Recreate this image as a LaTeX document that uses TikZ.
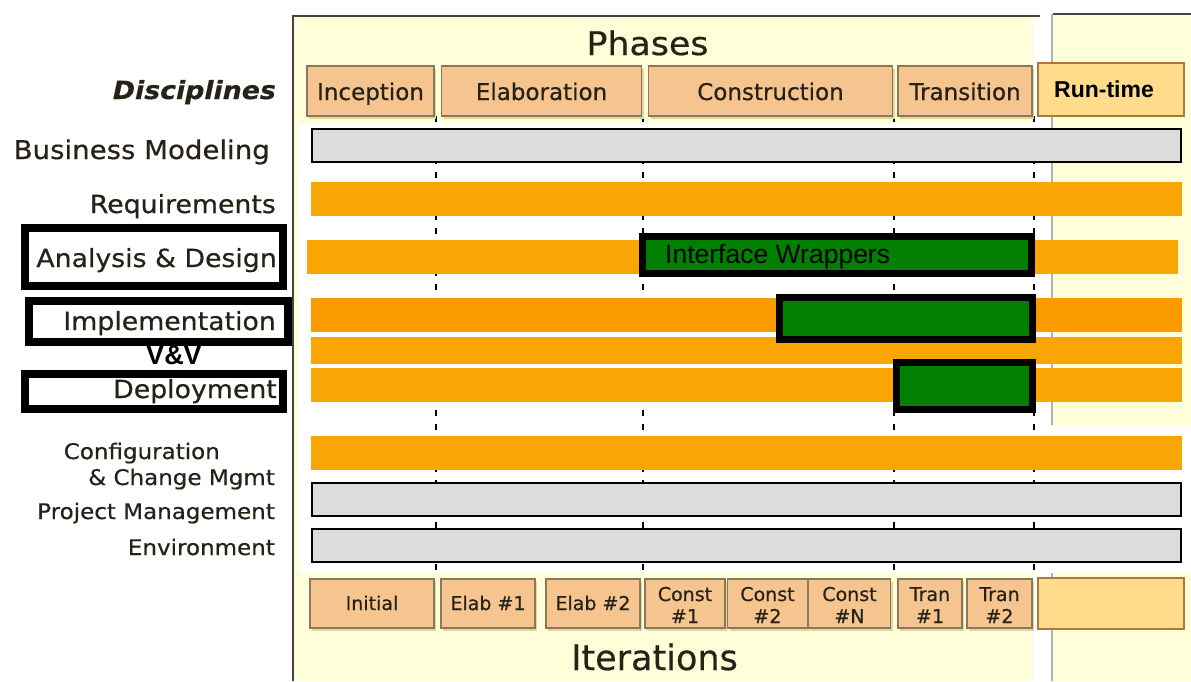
\documentclass[tikz,border=0pt]{standalone}
\usepackage{fontspec}
\setmainfont[FakeBold=0.5]{DejaVu Sans}
\newfontfamily\arialfont{Liberation Sans}
\newfontfamily\lblfont[FakeStretch=1.07,FakeBold=0.5]{DejaVu Sans}
\usetikzlibrary{shadows}
\definecolor{paley}{HTML}{FEFED8}
\definecolor{phasefill}{HTML}{F6C48E}
\definecolor{phasedraw}{HTML}{8A7858}
\definecolor{rtfill}{HTML}{FEDC8C}
\definecolor{rtdraw}{HTML}{B0773A}
\definecolor{orbar}{HTML}{F9A503}
\definecolor{orbartwo}{HTML}{FB9B00}
\definecolor{greybar}{HTML}{DCDCDC}
\definecolor{grn}{HTML}{007F00}
\definecolor{txt}{HTML}{262218}
\definecolor{shadowc}{HTML}{DDD6A6}
\definecolor{framec}{HTML}{444444}
\tikzset{
  phasebox/.style={draw=phasedraw, line width=1.2pt, fill=phasefill, inner sep=0pt,
    text=txt, font=\fontsize{23}{27}\selectfont, text height=20pt, text depth=2pt,
    drop shadow={shadow xshift=2pt, shadow yshift=-3pt, fill=shadowc, opacity=1}},
  iterbox/.style={draw=phasedraw, line width=1.2pt, fill=phasefill, inner sep=0pt,
    text=txt, font=\fontsize{19}{22}\selectfont, align=center, text height=15pt, text depth=2pt,
    drop shadow={shadow xshift=2pt, shadow yshift=-3pt, fill=shadowc, opacity=1}},
  twoline/.style={text height=41pt, text depth=2pt},
  rtbox/.style={draw=rtdraw, line width=2pt, fill=rtfill, inner sep=0pt},
  obar/.style={fill=orbar, draw=none, inner sep=0pt, minimum width=871, minimum height=34},
  gbar/.style={fill=greybar, draw=black, line width=2pt, inner sep=0pt, minimum width=869, minimum height=33},
  greenbox/.style={fill=grn, draw=black, line width=7pt, inner sep=0pt},
  lblframe/.style={draw=black, line width=8pt, fill=white, inner sep=0pt},
  lbl/.style={anchor=base east, inner sep=0pt, text=txt, font=\lblfont\fontsize{25}{30}\selectfont},
  lbls/.style={anchor=base east, inner sep=0pt, text=txt, font=\lblfont\fontsize{21.5}{26}\selectfont},
  gridline/.style={line width=2pt, dash pattern=on 6pt off 8pt, black},
}
\begin{document}
\begin{tikzpicture}[x=1pt,y=-1pt]
\useasboundingbox (0,0) rectangle (1191,681);
\fill[white] (0,0) rectangle (1191,681);
% panels
\fill[paley] (293,16) rectangle (1033,681);
\fill[paley] (1052,14) rectangle (1191,681);
\draw[gray!60, line width=1.5pt] (1052,14) -- (1052,681);
\draw[framec, line width=2pt] (293,681) -- (293,16) -- (1040,16);
\draw[framec, line width=2pt] (1053,14) -- (1191,14);
\fill[white] (299,124) rectangle (1035,573);
\fill[white] (1035,425) rectangle (1191,573);
% titles
\node[anchor=base, inner sep=0pt, text=txt, font=\lblfont\fontsize{32.5}{38}\selectfont] (phases) at (647.5,55) {Phases};
\node[anchor=base, inner sep=0pt, text=txt, font=\fontsize{35}{40}\selectfont] (iters) at (654.5,670) {Iterations};
% grid lines
\foreach \x in {436,643,894,1034} \draw[gridline] (\x,116) -- (\x,573);
% phase boxes
\node[phasebox, minimum width=127, minimum height=50] (inc) at (370.5,91) {Inception};
\node[phasebox, minimum width=200, minimum height=50] (ela) at (541.5,91) {Elaboration};
\node[phasebox, minimum width=244, minimum height=50] (con) at (770.5,91) {Construction};
\node[phasebox, minimum width=134, minimum height=50] (tra) at (965,91) {Transition};
\node[rtbox, minimum width=146, minimum height=53] (rt) at (1111,89.5) {};
\node[anchor=base, inner sep=0pt, font=\arialfont\bfseries\fontsize{23}{27}\selectfont] (rtT) at (1104,97) {Run-time};
% iteration boxes
\node[iterbox, minimum width=124, minimum height=49] (it1) at (372,603.5) {Initial};
\node[iterbox, minimum width=94, minimum height=49] (it2) at (488,603.5) {Elab \#1};
\node[iterbox, minimum width=94, minimum height=49] (it3) at (593,603.5) {Elab \#2};
\node[iterbox, twoline, minimum width=80, minimum height=49] (it4) at (685,603.5) {Const\\\#1};
\node[iterbox, twoline, minimum width=80, minimum height=49] (it5) at (767.5,603.5) {Const\\\#2};
\node[iterbox, twoline, minimum width=82, minimum height=49] (it6) at (849.5,603.5) {Const\\\#N};
\node[iterbox, twoline, minimum width=64, minimum height=49] (it7) at (930,603.5) {Tran\\\#1};
\node[iterbox, twoline, minimum width=65, minimum height=49] (it8) at (999.5,603.5) {Tran\\\#2};
\node[rtbox, minimum width=146, minimum height=51] (it9) at (1111,603.5) {};
% bars
\node[gbar] (bBM) at (746.5,145.5) {};
\node[obar] (bRQ) at (746.5,199) {};
\node[obar] (bAD) at (742.5,257) {};
\node[obar, fill=orbartwo] (bIM) at (746.5,315) {};
\node[obar, minimum height=27] (bVV) at (746.5,350.5) {};
\node[obar] (bDP) at (746.5,385) {};
\node[obar] (bCF) at (746.5,453) {};
\node[gbar] (bPM) at (746.5,499.5) {};
\node[gbar] (bEN) at (746.5,545.5) {};
% green boxes
\node[greenbox, minimum width=389, minimum height=37] (gIW) at (837,255) {};
\node[anchor=base west, inner sep=0pt, font=\arialfont\fontsize{26.5}{30}\selectfont] (gIWt) at (665,263) {Interface Wrappers};
\node[greenbox, minimum width=253, minimum height=42] (gIM) at (906,318.5) {};
\node[greenbox, minimum width=136, minimum height=47] (gDP) at (964.5,386) {};
% label frames
\node[lblframe, minimum width=258, minimum height=58] (fAD) at (154,257) {};
\node[lblframe, minimum width=259, minimum height=41] (fIM) at (158.5,321.5) {};
\node[lblframe, minimum width=258, minimum height=35] (fDP) at (154,391.5) {};
% labels
\node[lbl, font=\lblfont\bfseries\itshape\fontsize{25}{30}\selectfont] (lDisc) at (276,99) {Disciplines};
\node[lbl, font=\lblfont\fontsize{25.8}{30}\selectfont] (lBM) at (270,159) {Business Modeling};
\node[lbl] (lRQ) at (276,213) {Requirements};
\node[lbl] (lAD) at (277,267) {Analysis \& Design};
\node[lbl] (lIM) at (276,330) {Implementation};
\node[anchor=base, inner sep=0pt, font=\arialfont\bfseries\fontsize{27}{30}\selectfont] (lVV) at (174,364) {V\&V};
\node[lbl] (lDP) at (277,398) {Deployment};
\node[lbls] (lCF) at (220,459) {Configuration};
\node[lbls] (lCH) at (275,485) {\& Change Mgmt};
\node[lbls] (lPM) at (275,519) {Project Management};
\node[lbls] (lEN) at (275,555) {Environment};
\end{tikzpicture}
\end{document}
